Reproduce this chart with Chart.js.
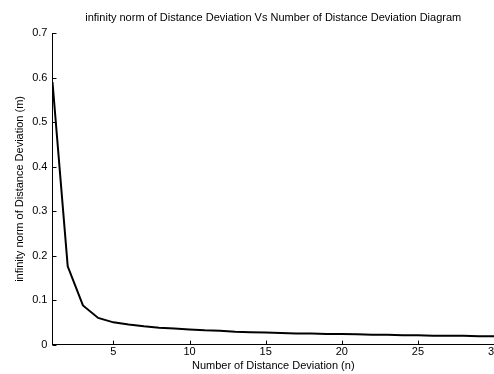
<!DOCTYPE html>
<html>
<head>
<meta charset="utf-8">
<script src="https://cdn.jsdelivr.net/npm/chart.js@4/dist/chart.umd.min.js"></script>
<style>
html,body{margin:0;padding:0;background:#fff;}
#wrap{width:494px;height:374px;}
</style>
</head>
<body>
<div id="wrap"><canvas id="c" width="494" height="374"></canvas></div>
<script>
const nValues = [1,2,3,4,5,6,7,8,9,10,11,12,13,14,15,16,17,18,19,20,21,22,23,24,25,26,27,28,29,30];
const normValues = [0.59,0.176,0.088,0.060,0.050,0.045,0.041,0.038,0.036,0.034,0.032,0.031,0.029,0.028,0.027,0.026,0.025,0.025,0.024,0.024,0.023,0.022,0.022,0.021,0.021,0.020,0.020,0.020,0.019,0.019];
const xTicks = [5,10,15,20,25,30];
const yTicks = [0,0.1,0.2,0.3,0.4,0.5,0.6,0.7];
const titleText = 'infinity norm of Distance Deviation Vs Number of Distance Deviation Diagram';
const xTitle = 'Number of Distance Deviation (n)';
const yTitle = 'infinity norm of Distance Deviation (m)';

const FONT = {family:'"Liberation Sans", Arial, sans-serif', size:11, weight:'normal'};

const inwardTicks = {
  id:'inwardTicks',
  afterDraw(chart){
    const ctx = chart.ctx, a = chart.chartArea;
    const xs = chart.scales.x, ys = chart.scales.y;
    ctx.save();
    ctx.strokeStyle = '#000';
    ctx.lineWidth = 1;
    ctx.beginPath();
    xs.ticks.forEach(t=>{
      const px = Math.round(xs.getPixelForValue(t.value))+0.5;
      ctx.moveTo(px, a.bottom); ctx.lineTo(px, a.bottom-4);
    });
    ys.ticks.forEach(t=>{
      const py = Math.round(ys.getPixelForValue(t.value))+0.5;
      ctx.moveTo(a.left, py); ctx.lineTo(a.left+4, py);
    });
    ctx.stroke();
    ctx.restore();
  }
};

new Chart(document.getElementById('c'), {
  type:'line',
  data:{
    datasets:[{
      data: nValues.map((n,i)=>({x:n, y:normValues[i]})),
      borderColor:'#000',
      borderWidth:2,
      pointRadius:0,
      tension:0,
      fill:false
    }]
  },
  options:{
    responsive:false,
    animation:false,
    layout:{padding:{left:13, right:0, top:0, bottom:1}},
    plugins:{
      legend:{display:false},
      tooltip:{enabled:false},
      title:{display:true, text:titleText, color:'#000', font:FONT, fullSize:false, padding:{top:11, bottom:9}}
    },
    scales:{
      x:{
        type:'linear', min:1, max:30,
        afterBuildTicks(s){ s.ticks = xTicks.map(v=>({value:v})); },
        afterFit(s){ s.paddingRight = 0; s.paddingLeft = 0; },
        grid:{display:false, drawTicks:false},
        border:{display:true, color:'#000', width:1},
        ticks:{color:'#000', font:FONT, padding:1, maxRotation:0},
        title:{display:true, text:xTitle, color:'#000', font:FONT, padding:{top:0, bottom:0}}
      },
      y:{
        type:'linear', min:0, max:0.7,
        afterBuildTicks(s){ s.ticks = yTicks.map(v=>({value:v})); },
        grid:{display:false, drawTicks:false},
        border:{display:true, color:'#000', width:1},
        ticks:{color:'#000', font:FONT, padding:5},
        title:{display:true, text:yTitle, color:'#000', font:FONT, padding:{top:0, bottom:1}}
      }
    }
  },
  plugins:[inwardTicks]
});
</script>
</body>
</html>
